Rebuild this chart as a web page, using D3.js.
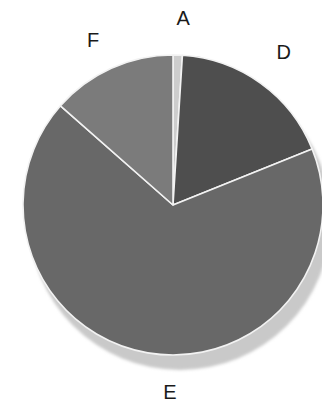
<!DOCTYPE html>
<html>
<head>
<meta charset="utf-8">
<script src="https://cdn.jsdelivr.net/npm/d3@7"></script>
<style>
  html, body { margin: 0; padding: 0; background: #fff; }
  svg { display: block; }
</style>
</head>
<body>
<svg id="chart" width="322" height="404"></svg>
<script>
// Slice labels and their shares (percent), clockwise from 12 o'clock
const categories = ["A", "D", "E", "F"];
const shares = [1.0, 17.9, 67.6, 13.5];
const sliceColors = ["#cdcdcd", "#4e4e4e", "#686868", "#7b7b7b"];

const width = 322, height = 404;
const cx = 173, cy = 205, radius = 150;

const svg = d3.select("#chart");

const defs = svg.append("defs");
const shadowBlur = defs.append("filter").attr("id", "soft")
  .attr("x", "-20%").attr("y", "-20%").attr("width", "140%").attr("height", "140%");
shadowBlur.append("feGaussianBlur").attr("stdDeviation", 1.6);

const data = categories.map((c, i) => ({ name: c, value: shares[i], color: sliceColors[i] }));

const pie = d3.pie().value(d => d.value).sort(null);
const arcs = pie(data);
const arc = d3.arc().innerRadius(0).outerRadius(radius);

// Drop shadow under the disc
svg.append("circle")
  .attr("cx", cx + 7).attr("cy", cy + 14).attr("r", radius + 1)
  .attr("fill", "#c9c9c9")
  .attr("filter", "url(#soft)");

const g = svg.append("g").attr("transform", `translate(${cx},${cy})`);

g.selectAll("path.slice")
  .data(arcs)
  .join("path")
  .attr("class", "slice")
  .attr("d", arc)
  .attr("fill", d => d.data.color)
  .attr("stroke", "#f2f2f2")
  .attr("stroke-width", 1.6)
  .attr("stroke-linejoin", "round");

// Labels sit outside the rim, near each slice's mid-angle (small per-label nudges in degrees)
const labelRadius = { A: 187, D: 189, E: 187, F: 183 };
const labelAngleShift = { A: 1.3, D: 0, E: -8.8, F: -1.6 };
const labelAngle = d => (d.startAngle + d.endAngle) / 2 + labelAngleShift[d.data.name] * Math.PI / 180;

g.selectAll("text.label")
  .data(arcs)
  .join("text")
  .attr("class", "label")
  .attr("x", d => Math.sin(labelAngle(d)) * labelRadius[d.data.name])
  .attr("y", d => -Math.cos(labelAngle(d)) * labelRadius[d.data.name])
  .attr("text-anchor", "middle")
  .attr("dominant-baseline", "central")
  .attr("font-family", "Liberation Sans, Arial, sans-serif")
  .attr("font-size", 20)
  .attr("fill", "#1a1a1a")
  .text(d => d.data.name);
</script>
</body>
</html>
